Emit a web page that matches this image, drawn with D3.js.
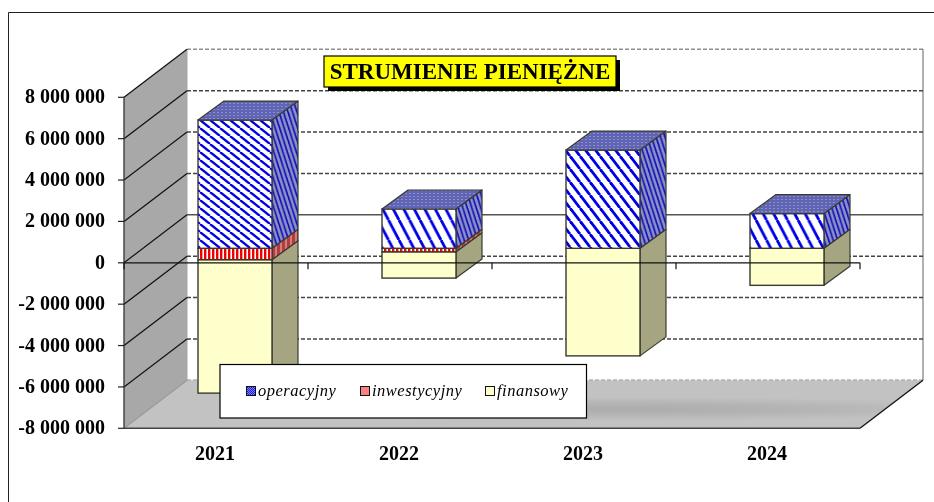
<!DOCTYPE html>
<html><head><meta charset="utf-8">
<script src="https://cdn.jsdelivr.net/npm/d3@7/dist/d3.min.js"></script>
<style>html,body{margin:0;padding:0;background:#fff}svg{display:block;filter:blur(0.35px)}text{font-family:"Liberation Serif",serif}</style>
</head><body><script>
const years=["2021","2022","2023","2024"];
const operacyjny=[6200000,1900000,4750000,1680000];
const inwestycyjny=[-550000,-170000,0,0];
const finansowy=[-6450000,-1270000,-5200000,-1790000];
const seriesNames=["operacyjny","inwestycyjny","finansowy"];
const yTicks=[8000000,6000000,4000000,2000000,0,-2000000,-4000000,-6000000,-8000000];
const titleText="STRUMIENIE PIENIĘŻNE";
const hatchHeights=[8,20,13,20];
const hatchWidths=[10,10.5,10,10.5];

const W=934,H=502;
const svg=d3.select("body").append("svg").attr("width",W).attr("height",H);
const defs=svg.append("defs");
const y=d3.scaleLinear().domain([-8000000,8000000]).range([428.3,97.3]);
const x=d3.scaleBand().domain(years).range([124,860]).paddingInner(0);
const wallDx=63,wallDy=-48,barDx=18,barDy=-14.5,sideDx=26,sideDy=-19,barW=74;
const xL=x.range()[0],xR=x.range()[1];
const fmt=v=>String(v).replace(/\B(?=(\d{3})+$)/g," ");

// patterns
years.forEach((yr,i)=>{
  const w=hatchWidths[i],h=hatchHeights[i];
  const p=defs.append("pattern").attr("id","hatch"+i).attr("patternUnits","userSpaceOnUse").attr("width",w).attr("height",h);
  p.append("rect").attr("width",w).attr("height",h).attr("fill","#fff");
  [-w,0,w].forEach(o=>p.append("line").attr("x1",o).attr("y1",0).attr("x2",o+w).attr("y2",h).attr("stroke","#0000e6").attr("stroke-width",i===0?2.3:2.8));
});
const ps=defs.append("pattern").attr("id","hatchSide").attr("patternUnits","userSpaceOnUse").attr("width",4.5).attr("height",14);
ps.append("rect").attr("width",4.5).attr("height",14).attr("fill","#8d91c4");
[-4.5,0,4.5].forEach(o=>ps.append("line").attr("x1",o).attr("y1",0).attr("x2",o+4.5).attr("y2",14).attr("stroke","#1010b8").attr("stroke-width",1.7));
const pt=defs.append("pattern").attr("id","hatchTop").attr("patternUnits","userSpaceOnUse").attr("width",4).attr("height",3);
pt.append("rect").attr("width",4).attr("height",3).attr("fill","#5f64b4");
pt.append("rect").attr("x",1).attr("y",1).attr("width",2).attr("height",1).attr("fill","#8d90c8");
const pr=defs.append("pattern").attr("id","hatchRed").attr("patternUnits","userSpaceOnUse").attr("width",4).attr("height",4);
pr.append("rect").attr("width",4).attr("height",4).attr("fill","#fff");
pr.append("rect").attr("width",2.4).attr("height",4).attr("fill","#f00000");
const prs=defs.append("pattern").attr("id","hatchRedSide").attr("patternUnits","userSpaceOnUse").attr("width",5).attr("height",4);
prs.append("rect").attr("width",5).attr("height",4).attr("fill","#b83a3a");
prs.append("rect").attr("width",2).attr("height",4).attr("fill","#c98080");
const pl=defs.append("pattern").attr("id","legendBlue").attr("patternUnits","userSpaceOnUse").attr("width",2).attr("height",2);
pl.append("rect").attr("width",2).attr("height",2).attr("fill","#8080ff");
pl.append("rect").attr("width",1).attr("height",1).attr("fill","#1a1ae0");
pl.append("rect").attr("x",1).attr("y",1).attr("width",1).attr("height",1).attr("fill","#1a1ae0");
const fg=defs.append("radialGradient").attr("id","floorGrad").attr("cx",0.62).attr("cy",0.6).attr("r",0.5).attr("gradientTransform","translate(0.62 0.6) scale(1 0.5) translate(-0.62 -0.6)");
fg.append("stop").attr("offset",0).attr("stop-color","#acacac");
fg.append("stop").attr("offset",0.45).attr("stop-color","#b4b4b4");
fg.append("stop").attr("offset",1).attr("stop-color","#c2c2c2");

// chart border (left and top only, the frame runs off the picture)
svg.append("path").attr("d",`M8.5 ${H}V12.5H${W}`).attr("fill","none").attr("stroke","#222").attr("stroke-width",1);

const poly=pts=>"M"+pts.map(p=>p.join(",")).join("L")+"Z";
const yT=y(8000000),yB=y(-8000000);
const backX0=xL+wallDx,backX1=xR+wallDx;

// back wall + gridlines
svg.append("rect").attr("x",backX0).attr("y",yT+wallDy).attr("width",backX1-backX0).attr("height",yB-yT).attr("fill","#fff");
svg.append("path").attr("d",`M${backX0} ${yT+wallDy}V${yB+wallDy}`).attr("stroke","#c4c4c4").attr("stroke-width",1.5);
svg.append("path").attr("d",`M${backX1} ${yT+wallDy}V${yB+wallDy}`).attr("stroke","#b0b0b0").attr("stroke-width",2);
yTicks.forEach(v=>{
  const yy=y(v)+wallDy;
  svg.append("line").attr("x1",backX0).attr("x2",backX1).attr("y1",yy).attr("y2",yy)
    .attr("stroke",v===0?"#555":"#444").attr("stroke-width",1.5)
    .attr("stroke-dasharray",v===0?null:"4 2").attr("opacity",(v===8000000||v===-8000000)?0.6:1);
});
// left wall, floor
svg.append("path").attr("d",poly([[xL,yT],[backX0,yT+wallDy],[backX0,yB+wallDy],[xL,yB]])).attr("fill","#a8a8a8");
svg.append("path").attr("d",poly([[xL,yB],[backX0,yB+wallDy],[backX1,yB+wallDy],[xR,yB]])).attr("fill","url(#floorGrad)");
yTicks.forEach(v=>{
  svg.append("line").attr("x1",xL).attr("y1",y(v)).attr("x2",backX0).attr("y2",y(v)+wallDy)
    .attr("stroke",v===-8000000?"#999":"#111").attr("stroke-width",1.2);
});
svg.append("line").attr("x1",xR).attr("y1",yB).attr("x2",backX1).attr("y2",yB+wallDy).attr("stroke","#111").attr("stroke-width",1.3);
svg.append("line").attr("x1",xL).attr("x2",xL).attr("y1",yT).attr("y2",yB).attr("stroke","#333").attr("stroke-width",1.3);
svg.append("line").attr("x1",xL).attr("x2",xR).attr("y1",yB).attr("y2",yB).attr("stroke","#444").attr("stroke-width",1.6);

// bars
const stroke="#3a3a30";
years.forEach((yr,i)=>{
  const xc=x(yr)+x.bandwidth()/2+barDx+1;
  const x0=xc-barW/2,x1=xc+barW/2;
  const Y=v=>y(v)+barDy;
  const fin0=inwestycyjny[i],fin1=inwestycyjny[i]+finansowy[i];
  const segs=[
    {a:fin0,b:fin1,front:"#ffffcc",side:"#a5a582"},
    {a:0,b:inwestycyjny[i],front:"url(#hatchRed)",side:"url(#hatchRedSide)"},
    {a:operacyjny[i],b:0,front:`url(#hatch${i})`,side:"url(#hatchSide)"}
  ];
  const g=svg.append("g").attr("class","bar");
  segs.forEach(s=>{
    if(s.a===s.b)return;
    g.append("path").attr("d",poly([[x1,Y(s.a)],[x1+sideDx,Y(s.a)+sideDy],[x1+sideDx,Y(s.b)+sideDy],[x1,Y(s.b)]]))
      .attr("fill",s.side).attr("stroke",stroke).attr("stroke-width",1.2).attr("stroke-linejoin","round");
    g.append("rect").attr("x",x0).attr("y",Y(s.a)).attr("width",barW).attr("height",Y(s.b)-Y(s.a))
      .attr("fill",s.front).attr("stroke",stroke).attr("stroke-width",1.4);
  });
  const t=Y(operacyjny[i]);
  g.append("path").attr("d",poly([[x0,t],[x0+sideDx,t+sideDy],[x1+sideDx,t+sideDy],[x1,t]]))
    .attr("fill","url(#hatchTop)").attr("stroke",stroke).attr("stroke-width",1.2).attr("stroke-linejoin","round");
});

// zero axis with ticks
const y0=y(0);
svg.append("line").attr("x1",xL).attr("x2",xR).attr("y1",y0).attr("y2",y0).attr("stroke","#111").attr("stroke-width",1.3);
[...years.map(d=>x(d)),xR].forEach(t=>{
  svg.append("line").attr("x1",t).attr("x2",t).attr("y1",y0).attr("y2",y0+6.5).attr("stroke","#111").attr("stroke-width",1.2);
});
// y axis
yTicks.forEach(v=>{
  svg.append("line").attr("x1",xL-6).attr("x2",xL).attr("y1",y(v)).attr("y2",y(v)).attr("stroke","#222").attr("stroke-width",1.2);
  svg.append("text").attr("x",105).attr("y",y(v)+6).attr("text-anchor","end").attr("font-weight","bold").attr("font-size",20).attr("fill","#000").text(fmt(v));
});
years.forEach(yr=>{
  svg.append("text").attr("x",x(yr)+x.bandwidth()/2-1).attr("y",459.5).attr("text-anchor","middle").attr("font-weight","bold").attr("font-size",20).attr("fill","#000").text(yr);
});

// legend
svg.append("rect").attr("x",220).attr("y",364.5).attr("width",366.5).attr("height",53.5).attr("fill","#fff").attr("stroke","#000").attr("stroke-width",1.2);
const lgFill=["url(#legendBlue)","#ff8080","#ffffcc"],lgSw=[246.5,360.5,485.5],lgTx=[258,372,497];
seriesNames.forEach((n,i)=>{
  svg.append("rect").attr("x",lgSw[i]).attr("y",386.5).attr("width",9).attr("height",9).attr("fill",lgFill[i]).attr("stroke","#111").attr("stroke-width",1);
  svg.append("text").attr("x",lgTx[i]).attr("y",396).attr("font-style","italic").attr("font-size",16.5).attr("letter-spacing",0.5).attr("fill","#000").text(n);
});

// title
svg.append("rect").attr("x",328).attr("y",60).attr("width",292).attr("height",31).attr("fill","#000");
svg.append("rect").attr("x",324).attr("y",56).attr("width",292).attr("height",31).attr("fill","#ff0").attr("stroke","#000").attr("stroke-width",1.2);
svg.append("text").attr("x",470).attr("y",78.5).attr("text-anchor","middle").attr("font-weight","bold").attr("font-size",23).attr("fill","#000").text(titleText);
</script></body></html>
